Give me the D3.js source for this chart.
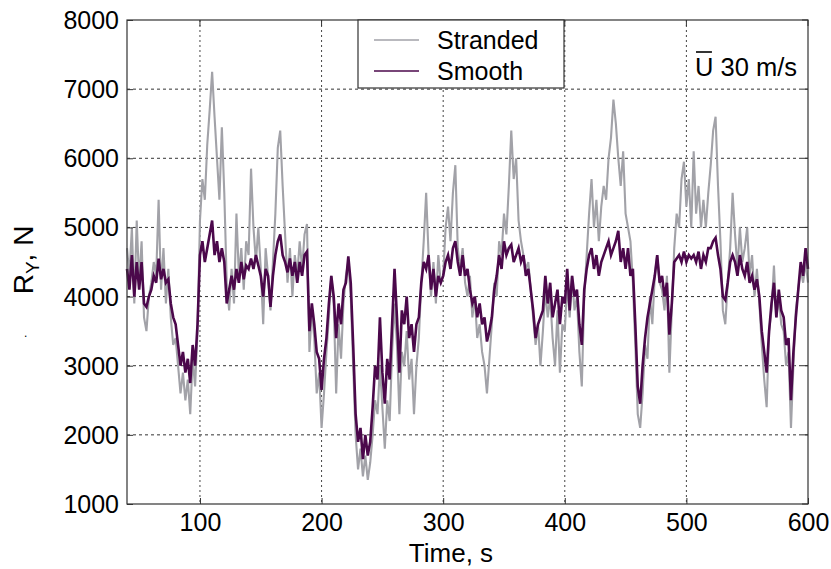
<!DOCTYPE html>
<html><head><meta charset="utf-8">
<script src="https://cdn.jsdelivr.net/npm/d3@7"></script>
<style>
html,body{margin:0;padding:0;background:#fff;}
svg text{font-family:"Liberation Sans",Arial,sans-serif;fill:#000;}
</style></head>
<body><svg id="c" width="831" height="569"></svg>
<script>
// Time axis: samples every 2 s from 40 s to 600 s
const tStart = 40, tStep = 2;
const stranded = [
4700,4300,5000,3900,5100,4200,4800,3700,3500,4000,
4200,4500,4300,5400,4100,4700,3900,4400,3700,3300,
3400,3000,2600,2900,2500,2800,2300,3100,2700,3500,
5100,5700,5400,6200,6700,7250,6600,6000,5400,6450,
5500,4200,3800,4400,3900,5200,4300,4700,4100,4800,
4600,5850,5000,4500,5000,4400,3600,4700,4300,3800,
4500,5200,6150,6400,5600,4900,4200,4700,4000,4600,
4300,4800,4400,4900,5050,3200,3800,3400,2600,2900,
2100,2600,3200,3700,4300,3900,2600,3600,3100,3900,
4300,4500,4000,3000,2000,1500,1800,1400,1700,1350,
1600,2000,2500,2300,3000,2400,1800,2500,2200,3200,
3900,3300,2300,3200,3000,3500,2800,3100,2300,3000,
3400,4200,4800,5500,4600,4000,4500,3900,4600,4200,
4300,5000,5300,4800,5500,5900,4700,4400,4700,4200,
4000,4300,3700,4000,3400,3600,3200,3000,2600,3100,
3600,4200,4000,4800,4600,5200,4900,5600,6400,5700,
6000,5100,4800,4600,4400,4500,4100,3700,3300,3600,
3000,3500,4100,3700,4000,3400,3000,3800,2900,3600,
3500,4200,3700,4300,3800,4000,3200,2700,4000,4600,
5200,5700,5000,5400,4800,5300,5600,5400,6000,6300,
6850,6500,6000,5600,6100,5200,5000,4800,4200,3300,
2300,2100,2600,3300,3100,4000,3600,4300,4600,4200,
4100,3800,4300,2900,3800,4700,5200,5000,5700,5950,
5300,5700,5000,6100,5200,5600,5000,5400,5000,5500,
5900,6400,6600,5600,4800,3800,3600,4200,4700,5500,
4900,4400,5000,4500,4700,5000,4300,4600,4000,4400,
3900,3300,2800,2400,3500,3800,4450,3700,4000,3600,
3500,3000,3200,2100,3000,3800,4100,4400,4200,4500,
4200
];
const smooth = [
4400,4100,4600,4000,4500,4100,4500,3900,3850,4000,
4100,4300,4200,4550,4250,4400,4200,4250,3900,3700,
3600,3300,3000,3200,2900,3100,2750,3300,3000,3600,
4600,4800,4500,4700,4900,5100,4600,4800,4500,4700,
4500,3900,4100,4300,4100,4400,4200,4500,4250,4450,
4400,4550,4400,4600,4450,4300,4000,4400,4300,3850,
4300,4600,4800,4900,4600,4500,4350,4550,4300,4500,
4200,4500,4300,4600,4650,3500,3900,3600,3200,3100,
2650,3100,3400,3900,4300,4000,3400,3900,3600,4100,
4200,4580,4200,3300,2300,1900,2100,1650,2000,1700,
1900,2400,3000,2800,3700,2900,2450,3100,2800,3600,
4400,3700,2900,3800,3600,4000,3400,3600,3200,3600,
3700,4200,4500,4400,4600,4100,4400,4000,4300,4200,
4300,4500,4600,4400,4700,4800,4500,4300,4600,4300,
4400,4100,3900,4000,3700,3900,3600,3700,3350,3500,
3700,4100,4300,4600,4400,4800,4600,4700,4750,4500,
4600,4700,4500,4600,4300,4400,4100,3800,3400,3600,
3700,3800,4300,3900,4200,3700,3900,4100,3600,4000,
3900,4400,3800,4300,4000,4100,3600,3300,4100,4400,
4600,4700,4400,4600,4300,4500,4600,4700,4800,4600,
4700,4800,4950,4500,4700,4400,4700,4300,4400,3600,
2700,2450,3000,3400,3700,3900,4100,4300,4600,4200,
4300,4000,4200,3450,3900,4500,4550,4600,4500,4650,
4500,4600,4550,4600,4500,4650,4400,4600,4500,4700,
4700,4800,4850,4600,4400,4000,3950,4200,4500,4600,
4500,4300,4600,4400,4300,4500,4200,4300,4100,4250,
4000,3500,3200,2900,3500,3900,4200,3700,4100,3800,
3700,3300,3400,2500,3200,3700,4100,4500,4300,4700,
4400
];
const xTicks = [100,200,300,400,500,600];
const yTicks = [1000,2000,3000,4000,5000,6000,7000,8000];
const seriesNames = ["Stranded","Smooth"];
const seriesColors = ["#a2a2a8","#4b084b"];

const svg = d3.select("#c");
const L=127, R=808, T=20, B=504;
const x = d3.scaleLinear().domain([40,600]).range([L,R]);
const y = d3.scaleLinear().domain([1000,8000]).range([B,T]);

// grid
const g = svg.append("g");
g.selectAll("line.hg").data(yTicks.filter(v=>v>1000&&v<8000)).enter().append("line")
 .attr("x1",L).attr("x2",R).attr("y1",d=>y(d)).attr("y2",d=>y(d))
 .attr("stroke","#333").attr("stroke-width",1).attr("stroke-dasharray","3,3");
g.selectAll("line.vg").data(xTicks.filter(v=>v<600)).enter().append("line")
 .attr("x1",d=>x(d)).attr("x2",d=>x(d)).attr("y1",T).attr("y2",B)
 .attr("stroke","#444").attr("stroke-width",1).attr("stroke-dasharray","2,3");

// data
const mk = arr => arr.map((v,i)=>[tStart+i*tStep, v]);
const line = d3.line().x(d=>x(d[0])).y(d=>y(d[1]));
svg.append("path").datum(mk(stranded)).attr("d",line).attr("fill","none")
  .attr("stroke",seriesColors[0]).attr("stroke-width",2.1).attr("stroke-linejoin","miter");
svg.append("path").datum(mk(smooth)).attr("d",line).attr("fill","none")
  .attr("stroke",seriesColors[1]).attr("stroke-width",2.6).attr("stroke-linejoin","miter");

// axes
const ax = d3.axisBottom(x).tickValues(xTicks).tickSize(-6).tickPadding(12).tickFormat(d3.format("d"));
const ay = d3.axisLeft(y).tickValues(yTicks).tickSize(-6).tickPadding(14).tickFormat(d3.format("d"));
const gx = svg.append("g").attr("transform",`translate(0,${B})`).call(ax);
const gy = svg.append("g").attr("transform",`translate(${L},0)`).call(ay);
[gx,gy].forEach(a=>{
  a.select(".domain").remove();
  a.selectAll(".tick line").attr("stroke","#333");
  a.selectAll("text").style("font-size","25px").attr("fill","#000");
});
gx.selectAll("text").attr("dy","0.72em").attr("y",9);
gy.selectAll("text").attr("dy","0.34em").attr("x",-8);
// top/right ticks
svg.append("g").selectAll("line").data(xTicks).enter().append("line")
  .attr("x1",d=>x(d)).attr("x2",d=>x(d)).attr("y1",T).attr("y2",T+6).attr("stroke","#333");
svg.append("g").selectAll("line").data(yTicks).enter().append("line")
  .attr("x1",R-6).attr("x2",R).attr("y1",d=>y(d)).attr("y2",d=>y(d)).attr("stroke","#333");
// frame
svg.append("rect").attr("x",L).attr("y",T).attr("width",R-L).attr("height",B-T)
  .attr("fill","none").attr("stroke","#333").attr("stroke-width",1.2);

// legend
const lg = svg.append("g");
lg.append("rect").attr("x",358).attr("y",T).attr("width",206).attr("height",68)
  .attr("fill","#fff").attr("stroke","#333").attr("stroke-width",1.2);
seriesNames.forEach((n,i)=>{
  const yy = 40 + i*31;
  lg.append("line").attr("x1",374).attr("x2",419).attr("y1",yy).attr("y2",yy)
    .attr("stroke",seriesColors[i]).attr("stroke-width",1.5);
  lg.append("text").attr("x",437).attr("y",yy+8.5).style("font-size","25px").text(n);
});

// annotation: U-bar 30 m/s
const ut = svg.append("text").attr("x",695).attr("y",76).style("font-size","25.5px");
const uSpan = ut.append("tspan").text("U");
ut.append("tspan").text(" 30 m/s");
const uw = uSpan.node().getComputedTextLength();
svg.append("line").attr("x1",696).attr("x2",695+uw-1.5).attr("y1",52).attr("y2",52)
  .attr("stroke","#000").attr("stroke-width",1.6);

// axis titles
svg.append("text").attr("x",451).attr("y",562).attr("text-anchor","middle")
  .style("font-size","26px").text("Time, s");
const yl = svg.append("text").attr("transform","translate(33,260) rotate(-90)")
  .attr("text-anchor","middle").style("font-size","28px");
yl.append("tspan").text("R");
yl.append("tspan").attr("dy",6).style("font-size","19px").text("Y");
yl.append("tspan").attr("dy",-6).text(", N");
svg.append("text").attr("x",24).attr("y",337).style("font-size","12px").text(".");
</script></body></html>
